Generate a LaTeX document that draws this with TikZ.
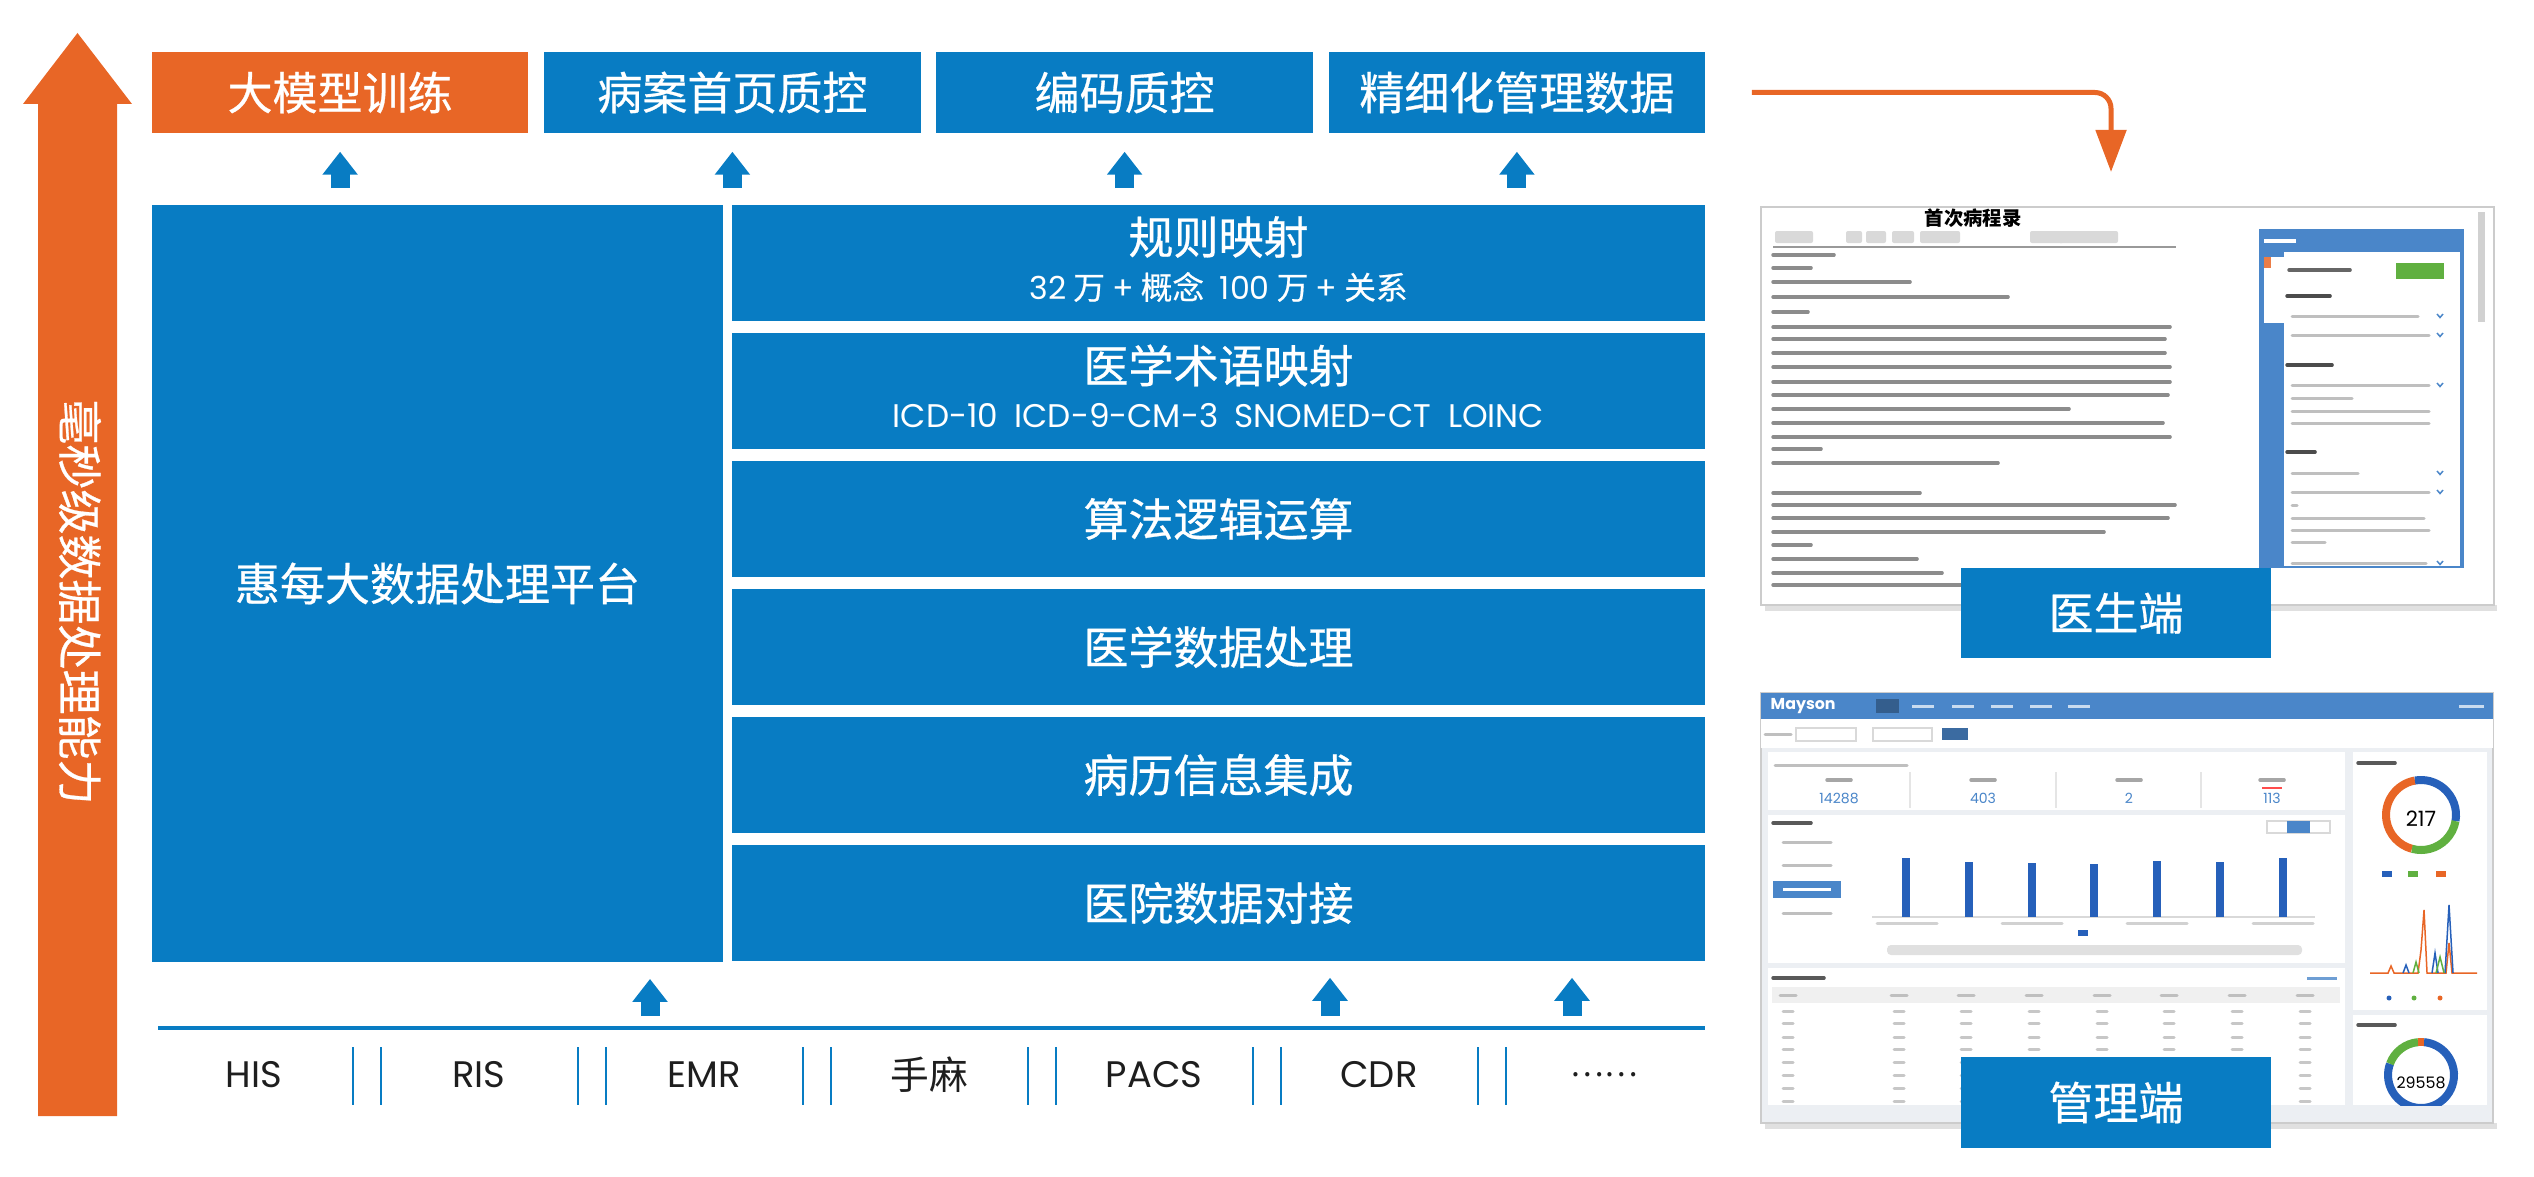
\documentclass[tikz,border=0pt]{standalone}
\usepackage{fontspec}
\setmainfont{Noto Sans CJK SC}
\newfontfamily\latin{Poppins}
\newfontfamily\boxfont{Noto Sans CJK SC}[FakeBold=0.6]
\usetikzlibrary{arrows.meta}
\definecolor{hmblue}{RGB}{8,124,195}
\definecolor{hmorange}{RGB}{232,102,38}
\definecolor{shotblue}{RGB}{74,134,201}
\definecolor{shotbg}{RGB}{236,239,243}
\definecolor{shotbar}{RGB}{38,96,186}
\definecolor{shotgreen}{RGB}{96,176,64}
\definecolor{srctext}{RGB}{30,30,30}

\begin{document}
\begin{tikzpicture}[x=0.01cm, y=-0.01cm,
    box/.style={fill=hmblue, text=white, inner sep=0pt, font=\fontsize{12.8}{15}\selectfont\boxfont},
    topbox/.style={box, minimum width=3.7625cm, minimum height=0.81cm},
    layer/.style={box, minimum width=9.73cm, minimum height=1.16cm},
    boxtxt/.style={text=white, inner sep=0pt, font=\fontsize{12.8}{15}\selectfont\boxfont},
    subtxt/.style={text=white, inner sep=0pt, font=\fontsize{9}{11}\selectfont\boxfont},
    blockup/.style={hmblue, line width=0.19cm, -{Triangle[width=0.34cm, length=0.23cm]}},
    sepline/.style={hmblue, line width=0.025cm},
    srclbl/.style={text=srctext, inner sep=0pt, font=\fontsize{10.5}{12}\selectfont\latin},
    shot/.style={draw=black!20, line width=0.02cm, inner sep=0pt},
    shotlbl/.style={box, minimum width=3.1cm, minimum height=0.9cm},
    blurline/.style={line width=0.035cm, black!45, line cap=round},
    softline/.style={line width=0.03cm, black!25, line cap=round},
    tinytxt/.style={inner sep=0pt, font=\fontsize{4}{5}\selectfont\latin}]

    \useasboundingbox (0,0) rectangle (2534,1176);

    \fill[hmorange] (38,1116) -- (38,104) -- (23,104) -- (77.5,33) -- (132,104) -- (117,104) -- (117,1116) -- cycle;
    \node[boxtxt, rotate=-90] (speed) at (80,602) {毫秒级数据处理能力};

    \node[topbox, fill=hmorange] (train) at (340.1,92.5) {大模型训练};
    \node[topbox] (homepage) at (732.4,92.5) {病案首页质控};
    \node[topbox] (coding) at (1124.6,92.5) {编码质控};
    \node[topbox] (finedata) at (1516.9,92.5) {精细化管理数据};

    \node[box, minimum width=5.71cm, minimum height=7.57cm] (platform) at (437.5,583.5) {惠每大数据处理平台};
    \node[layer] (rulemap) at (1218.5,263) {};
    \node[boxtxt] (rulemapt) at ([yshift=0.26cm]rulemap.center) {规则映射};
    \node[subtxt] (rulemaps) at ([yshift=-0.24cm]rulemap.center) {{\latin 32} 万 {\latin +} 概念\enspace {\latin 100} 万 {\latin +} 关系};
    \node[layer] (termmap) at (1218.5,391) {};
    \node[boxtxt] (termmapt) at ([yshift=0.255cm]termmap.center) {医学术语映射};
    \node[subtxt, font=\fontsize{9.3}{11}\selectfont\latin] (termmaps) at ([yshift=-0.245cm]termmap.center) {ICD-10\enspace ICD-9-CM-3\enspace SNOMED-CT\enspace LOINC};
    \node[layer] (algo) at (1218.5,519) {算法逻辑运算};
    \node[layer] (dataproc) at (1218.5,647) {医学数据处理};
    \node[layer] (emrint) at (1218.5,775) {病历信息集成};
    \node[layer] (hospconn) at (1218.5,903) {医院数据对接};

    \foreach \dst in {train,homepage,coding,finedata}
        \draw[blockup] ([yshift=0.16cm]\dst.south |- platform.north) -- ([yshift=-0.18cm]\dst.south);

    \coordinate (srcA) at (650,1016);
    \coordinate (srcB) at (1330,1016);
    \coordinate (srcC) at (1572,1016);
    \draw[blockup] (srcA) -- ([yshift=-0.16cm]srcA |- platform.south);
    \draw[blockup] (srcB) -- ([yshift=-0.16cm]srcB |- hospconn.south);
    \draw[blockup] (srcC) -- ([yshift=-0.16cm]srcC |- hospconn.south);

    \coordinate (busL) at (158,1028);
    \coordinate (busR) at (1705,1028);
    \draw[hmblue, line width=0.035cm] (busL) -- (busR);
    \foreach \sx in {367,592,817,1042,1267,1492} {
        \draw[sepline] (\sx-14,1047) -- (\sx-14,1105);
        \draw[sepline] (\sx+14,1047) -- (\sx+14,1105);
    }
    \node[srclbl] (his) at (254,1075) {HIS};
    \node[srclbl] (ris) at (479,1075) {RIS};
    \node[srclbl] (emr) at (704,1075) {EMR};
    \node[srclbl, font=\fontsize{11}{13}\selectfont] (anes) at (929,1075) {手麻};
    \node[srclbl] (pacs) at (1154,1075) {PACS};
    \node[srclbl] (cdr) at (1379,1075) {CDR};
    \node[srclbl, font=\fontsize{9}{11}\selectfont] (more) at (1604,1075) {……};

    \coordinate (feedto) at (2111,172);
    \draw[hmorange, line width=0.05cm, rounded corners=0.16cm, -{Triangle[width=0.30cm, length=0.42cm]}] ([xshift=0.46cm]finedata.east) -| (feedto);

    \fill[black!12] (1765,605) rectangle (2497,611);
    \node[shot, fill=white, minimum width=7.33cm, minimum height=3.98cm] (docshot) at (2127.5,406) {};
    \node[inner sep=0pt, font=\fontsize{5.5}{6}\selectfont\bfseries] (doctitle) at (1973,218) {首次病程录};
    \foreach \bx/\bw in {1775/38,1846/16,1866/20,1892/22,1920/40,2030/34,2058/60}
        \fill[black!15, rounded corners=0.02cm] (\bx,231) rectangle (\bx+\bw,243);
    \draw[black!40, line width=0.015cm] (1773,247) -- (2176,247);
    \foreach \ty/\tx in {255/1834,268/1811,282/1910,297/2008,312/1808,327/2170,339/2165,353/2165,367/2170,382/2170,395/2168,409/2069,423/2163,437/2170,449/1821,463/1998,493/1920,505/2175,518/2168,532/2104,545/1811,559/1917,573/1942,585/1963}
        \draw[blurline] (1773,\ty) -- (\tx,\ty);
    \fill[shotblue] (2259,229) rectangle (2464,568);
    \fill[white] (2284,252) rectangle (2460,566);
    \fill[white] (2264,257) rectangle (2284,323);
    \fill[hmorange!85] (2264,257) rectangle (2271,268);
    \draw[white, line width=0.03cm] (2264,241) -- (2296,241);
    \fill[shotgreen] (2396,263) rectangle (2444,279);
    \draw[blurline, black!60] (2289,270) -- (2350,270);
    \foreach \hy/\hx in {296/2330,365/2332,452/2315}
        \draw[blurline, black!70] (2287,\hy) -- (\hx,\hy);
    \foreach \iy/\ix in {316/2418,335/2429,385/2429,398/2352,411/2429,423/2429,473/2358,492/2429,505/2297,518/2424,530/2429,542/2325,563/2426}
        \draw[softline] (2292,\iy) -- (\ix,\iy);
    \foreach \cy in {316,335,385,473,492,563}
        \draw[shotblue, line width=0.015cm] (2437,\cy-2) -- (2440,\cy+1.5) -- (2443,\cy-2);
    \fill[black!18] (2478,212) rectangle (2485,322);

    \fill[black!12] (1765,1123) rectangle (2497,1129);
    \node[shot, fill=shotbg, minimum width=7.32cm, minimum height=4.30cm] (mgmtshot) at (2127,908) {};
    \fill[shotblue] (1761,693) rectangle (2493,719);
    \node[tinytxt, text=white, anchor=west, font=\fontsize{4.5}{5}\selectfont\latin\bfseries] (mayson) at (1770,706) {Mayson};
    \fill[shotblue!70!black] (1876,699) rectangle (1899,713);
    \foreach \nx in {1912,1952,1991,2030,2068}
        \draw[white!70!shotblue, line width=0.03cm] (\nx,706) -- (\nx+22,706);
    \draw[white!70!shotblue, line width=0.03cm] (2459,706) -- (2484,706);
    \fill[white] (1761,719) rectangle (2493,748);
    \draw[softline] (1765,734) -- (1791,734);
    \draw[black!15, line width=0.015cm] (1796,728) rectangle (1856,741) (1873,728) rectangle (1932,741);
    \fill[shotblue!80!black] (1942,728) rectangle (1968,740);

    \fill[white] (1768,752) rectangle (2345,810);
    \fill[white] (1768,815) rectangle (2345,963);
    \fill[white] (1768,968) rectangle (2345,1105);
    \fill[white] (2353,752) rectangle (2487,1010);
    \fill[white] (2353,1015) rectangle (2487,1105);

    \draw[softline] (1775,765) -- (1907,765);
    \foreach \sx in {1910,2056,2201}
        \draw[black!10, line width=0.015cm] (\sx,772) -- (\sx,808);
    \foreach \sx in {1839,1983,2129,2272}
        \draw[blurline, black!35] (\sx-12,780) -- (\sx+12,780);
    \draw[red!70, line width=0.02cm] (2262,788) -- (2282,788);
    \node[tinytxt, text=shotblue] (num1) at (1839,798) {14288};
    \node[tinytxt, text=shotblue] (num2) at (1983,798) {403};
    \node[tinytxt, text=shotblue] (num3) at (2129,798) {2};
    \node[tinytxt, text=shotblue] (num4) at (2272,798) {113};

    \draw[blurline, black!65] (1773,823) -- (1811,823);
    \draw[black!15, line width=0.015cm] (2267,821) rectangle (2330,833);
    \fill[shotblue] (2287,821) rectangle (2310,833);
    \foreach \my in {842,865,913}
        \draw[softline] (1783,\my) -- (1831,\my);
    \fill[shotblue] (1773,881) rectangle (1841,898);
    \draw[white, line width=0.03cm] (1783,889.5) -- (1831,889.5);
    \draw[black!15, line width=0.015cm] (1872,917) -- (2315,917);
    \foreach \bx/\bt in {1906/858,1969/862,2032/863,2094/864,2157/861,2220/862,2283/858}
        \fill[shotbar] (\bx-4,\bt) rectangle (\bx+4,917);
    \foreach \lx in {1907,2032,2157,2283}
        \draw[softline, black!18] (\lx-30,923) -- (\lx+30,923);
    \fill[shotbar] (2078,930) rectangle (2088,936);
    \fill[black!12, rounded corners=0.04cm] (1887,945) rectangle (2302,955);

    \draw[blurline, black!65] (1773,978) -- (1824,978);
    \draw[shotblue!80, line width=0.03cm] (2307,978) -- (2337,978);
    \fill[black!6] (1772,987) rectangle (2340,1003);
    \foreach \cx in {1788,1899,1966,2034,2102,2169,2237,2305}
        \draw[softline] (\cx-8,995) -- (\cx+8,995);
    \foreach \ry in {1011,1023,1037,1049,1062,1075,1088,1101}
        \foreach \cx in {1788,1899,1966,2034,2102,2169,2237,2305}
            \draw[softline, black!22] (\cx-5,\ry) -- (\cx+5,\ry);

    \draw[blurline, black!65] (2358,763) -- (2395,763);
    \begin{scope}[shift={(2421,815)}, y=0.01cm]
        \draw[hmorange, line width=0.08cm] (100:35) arc[start angle=100, end angle=255, radius=35];
        \draw[shotbar, line width=0.08cm] (-10:35) arc[start angle=-10, end angle=100, radius=35];
        \draw[shotgreen, line width=0.08cm] (255:35) arc[start angle=255, end angle=350, radius=35];
        \node[tinytxt, font=\fontsize{6}{7}\selectfont\latin] (total1) at (0,-4) {217};
    \end{scope}
    \fill[shotbar] (2382,871) rectangle (2392,877);
    \fill[shotgreen] (2408,871) rectangle (2418,877);
    \fill[hmorange] (2436,871) rectangle (2446,877);
    \draw[hmorange, line width=0.015cm] (2370,973) -- (2388,973) -- (2391,966) -- (2394,973) -- (2418,973) -- (2421,950) -- (2424,910) -- (2427,973) -- (2446,973) -- (2449,943) -- (2452,973) -- (2477,973);
    \draw[shotbar, line width=0.015cm] (2403,973) -- (2406,965) -- (2409,973) (2432,973) -- (2435,953) -- (2438,973) (2445,973) -- (2449,905) -- (2453,973);
    \draw[shotgreen, line width=0.015cm] (2436,973) -- (2440,957) -- (2444,973) (2413,973) -- (2416,962) -- (2419,973);
    \fill[shotbar] (2389,998) circle (2.5);
    \fill[shotgreen] (2414,998) circle (2.5);
    \fill[hmorange] (2440,998) circle (2.5);

    \draw[blurline, black!65] (2358,1025) -- (2395,1025);
    \begin{scope}
        \clip (2353,1015) rectangle (2487,1105);
        \begin{scope}[shift={(2421,1075)}, y=0.01cm]
            \draw[shotbar, line width=0.08cm] (160:33) arc[start angle=160, end angle=445, radius=33];
            \draw[shotgreen, line width=0.08cm] (95:33) arc[start angle=95, end angle=160, radius=33];
            \draw[hmorange, line width=0.08cm] (85:33) arc[start angle=85, end angle=95, radius=33];
            \node[tinytxt, font=\fontsize{4.5}{5}\selectfont\latin] (total2) at (0,-8) {29558};
        \end{scope}
    \end{scope}

    \node[shotlbl] (doclbl) at (2116,613) {医生端};
    \node[shotlbl] (mgmtlbl) at (2116,1102.5) {管理端};
\end{tikzpicture}
\end{document}
